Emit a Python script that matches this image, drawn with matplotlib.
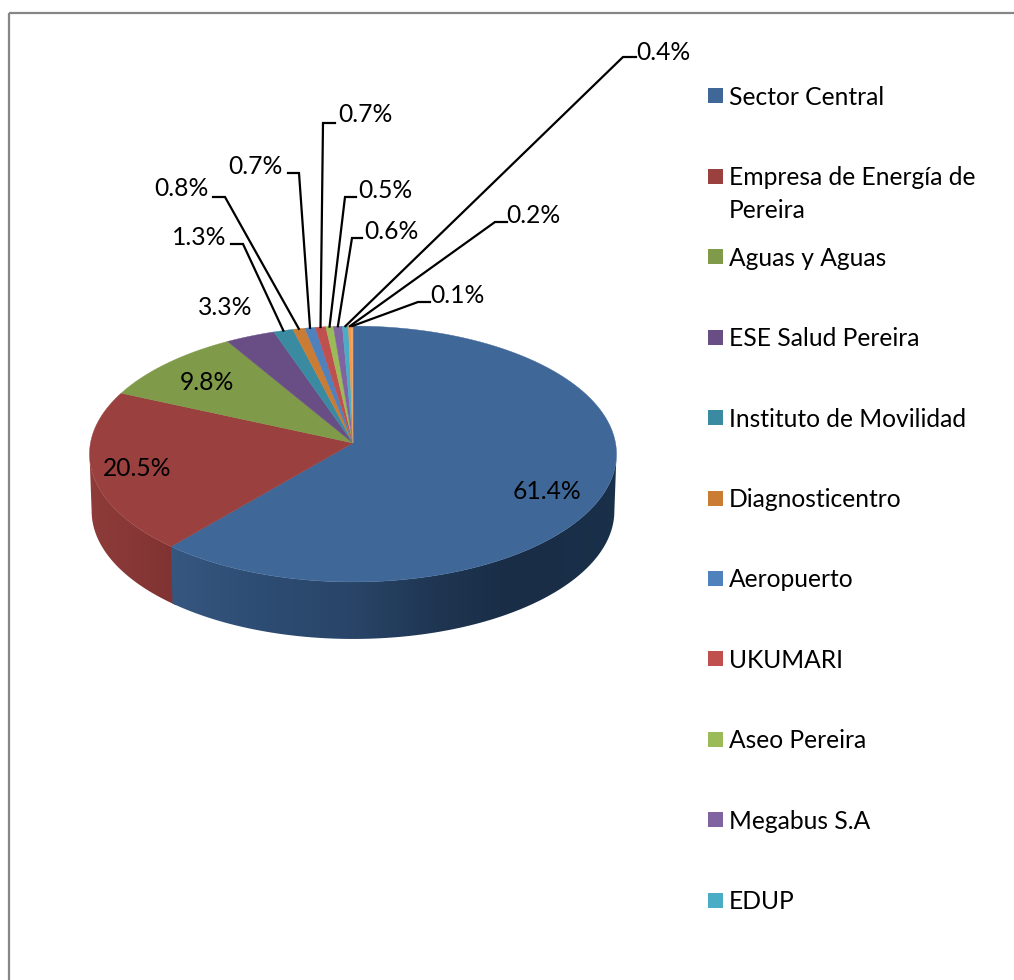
import numpy as np
import matplotlib
matplotlib.use("Agg")
import matplotlib.pyplot as plt
from matplotlib.patches import Polygon, Rectangle

plt.rcParams["font.family"] = ["Lato", "DejaVu Sans"]

# data
categories = ["Sector Central", "Empresa de Energía de\nPereira", "Aguas y Aguas",
              "ESE Salud Pereira", "Instituto de Movilidad", "Diagnosticentro",
              "Aeropuerto", "UKUMARI", "Aseo Pereira", "Megabus S.A", "EDUP"]
shares = [61.4, 20.5, 9.8, 3.3, 1.3, 0.8, 0.7, 0.7, 0.5, 0.6, 0.4, 0.2, 0.1]

# colours
top_colors = ["#3F6899", "#9A403E", "#7F9A48", "#694E85", "#3A8BA2", "#CA7C35", "#4F81BD",
              "#C0504D", "#9BBB59", "#8064A2", "#4BACC6", "#F79646", "#EBA66E"]
legend_colors = top_colors[:11]

# label positions in pixels: text centre, then leader elbow and end (None = no leader)
label_xy = [(547, 491), (137, 468), (207, 382), (225, 307), (199, 237), (181, 189),
            (255, 167), (365, 115), (385, 191), (391, 231), (663, 52), (533, 215), (457, 295)]
elbows = [None, None, None, None, ((243, 244), (231, 244)), ((225, 197), (213, 197)),
          ((299, 173), (288, 173)), ((323, 123), (335, 123)), ((345, 197), (356, 197)),
          ((352, 238), (362, 238)), ((623, 57), (636, 57)), ((495, 222), (507, 222)),
          ((418, 302), (430, 302))]

# pie geometry, tilted with a little perspective
cx, apex_y = 353, 443
A, B, k = 262.5, 127.0, 0.086
depth = 57
FS = 17.7


def project(theta_deg, scale=1.0, drop=0):
    t = np.radians(theta_deg)
    w = 1 + k * np.sin(t)
    return cx + scale * A * np.cos(t) / w, apex_y + drop - B * np.sin(t) / w


fig = plt.figure(figsize=(10.14, 9.80), dpi=100)
ax = fig.add_axes([0, 0, 1, 1])
ax.axis("off")

# frame, cut off by the right and bottom of the picture
ax.add_patch(Rectangle((9, 13), 1100, 1100, fill=False, edgecolor="#868686", linewidth=1.6))

angles = 90 - 360 * np.cumsum([0] + shares) / sum(shares)

# side wall: only the blue and red slices reach the lower half
# red goes first and runs a little under blue so no seam shows
shade_x = {0: [170, 260, 350, 440, 500, 560, 618], 1: [88, 176]}
shade_rgb = {0: [[0.21, 0.34, 0.50], [0.18, 0.30, 0.45], [0.16, 0.27, 0.41], [0.12, 0.21, 0.32],
                 [0.10, 0.18, 0.28], [0.10, 0.18, 0.28], [0.10, 0.19, 0.29]],
             1: [[0.56, 0.235, 0.228], [0.50, 0.20, 0.195]]}
for i in [1, 0]:
    start = angles[i] + (1 if i == 1 else 0)
    ts = np.linspace(start, angles[i + 1], 400)
    # wall stops where the rim turns back, at sin = -k
    ts = ts[np.sin(np.radians(ts)) <= -k]
    xt, yt = project(ts)
    xb, yb = project(ts[::-1], 0.992, depth)
    outline = np.c_[np.r_[xt, xb], np.r_[yt, yb]]
    x0, x1 = shade_x[i][0], shade_x[i][-1]
    cols = np.linspace(x0, x1, 256)
    rgb = np.array([[np.interp(cols, shade_x[i], np.array(shade_rgb[i])[:, j]) for j in range(3)]])
    img = ax.imshow(np.moveaxis(rgb, 1, 2), extent=(x0, x1, 660, 430), aspect="auto", zorder=2)
    img.set_clip_path(Polygon(outline, transform=ax.transData))

ax.set_xlim(0, 1014)
ax.set_ylim(980, 0)

# top face
for i, color in enumerate(top_colors):
    ts = np.linspace(angles[i], angles[i + 1], max(int(abs(angles[i + 1] - angles[i]) * 2), 2) + 1)
    xs, ys = project(ts)
    ax.fill(np.r_[cx, xs], np.r_[apex_y, ys], color=color, linewidth=0.3, zorder=3)

# leaders and percent labels
for i, share in enumerate(shares):
    ax.text(label_xy[i][0], label_xy[i][1], "%.1f%%" % share, fontsize=FS, color="black",
            ha="center", va="center", zorder=5)
    if elbows[i] is not None:
        rx, ry = project((angles[i] + angles[i + 1]) / 2)
        (ex, ey), (tx, ty) = elbows[i]
        ax.plot([rx, ex, tx], [ry, ey, ty], color="black", linewidth=1.6,
                solid_joinstyle="miter", zorder=4)

# legend
for i, name in enumerate(categories):
    yc = 96 + 80.4 * i
    ax.add_patch(Rectangle((708, yc - 7.5), 15, 15, facecolor=legend_colors[i], edgecolor="none"))
    for j, line in enumerate(name.split("\n")):
        ax.text(729, yc + 9 + 33 * j, line, fontsize=FS, color="black", ha="left", va="baseline")

fig.savefig("out.png", dpi=100)
